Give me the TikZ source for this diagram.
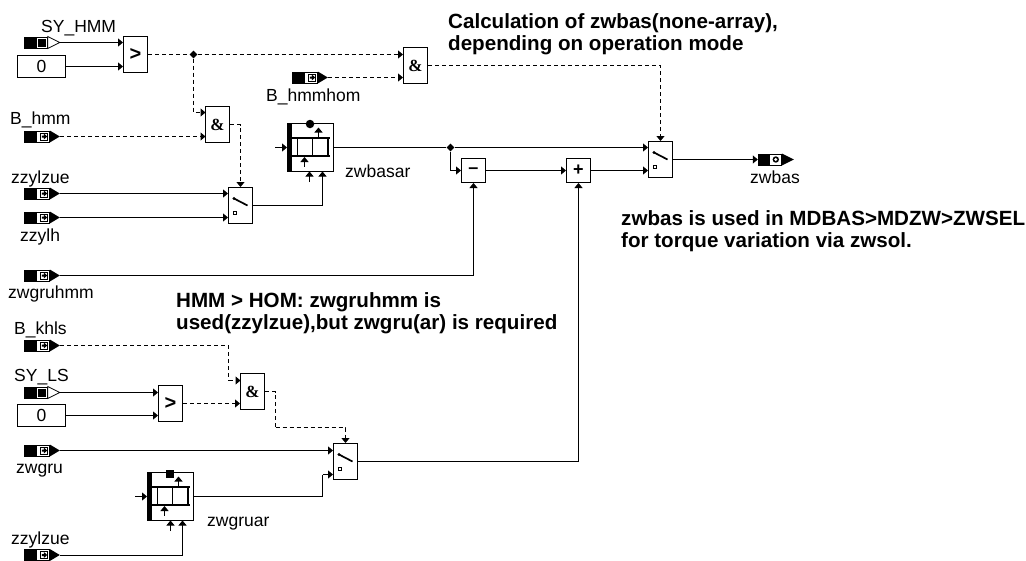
\documentclass[tikz,border=0pt]{standalone}
\usepackage{fontspec}
\setmainfont{Liberation Sans}
\newfontfamily\ampfont{Liberation Serif}
\usetikzlibrary{arrows.meta,shapes.geometric}
\tikzset{
  wire/.style={line width=1pt,draw=black},
  sig/.style={wire,-{Triangle[length=5pt,width=8pt]}},
  dsh/.style={dash pattern=on 4pt off 3pt},
  block/.style={draw=black,line width=1pt,fill=white,minimum width=24pt,minimum height=36pt,inner sep=0pt,font=\fontsize{20}{20}\selectfont\bfseries},
  andblock/.style={block,font=\fontsize{17}{17}\ampfont\bfseries},
  opbox/.style={draw=black,line width=1pt,fill=white,minimum width=24pt,minimum height=24pt,inner sep=0pt,font=\fontsize{18}{18}\selectfont\bfseries},
  constbox/.style={draw=black,line width=1pt,fill=white,minimum width=48pt,minimum height=22pt,inner sep=0pt,font=\fontsize{17.5}{17.5}\selectfont},
  arrbox/.style={draw=black,line width=1pt,fill=white,minimum width=46pt,minimum height=48pt,inner sep=0pt},
  termbox/.style={minimum width=36pt,minimum height=12pt,inner sep=0pt},
  lbl/.style={inner sep=0pt,anchor=base west,font=\fontsize{17.5}{17.5}\selectfont},
  note/.style={inner sep=0pt,anchor=base west,align=left,font=\fontsize{20.6}{22}\selectfont\bfseries},
  junct/.style={diamond,fill=black,inner sep=0pt,minimum size=8pt},
}
\newcommand{\terminput}[3]{%
  \node[termbox] (#1) at (#2+18,#3) {};
  \begin{scope}[shift={(#1.west)}]
    \fill (0,-6) rectangle (13,6);
    \draw[line width=.8pt,fill=white] (13,-5.5) rectangle (26,5.5);
    \fill (26,-6) -- (36,0) -- (26,6) -- cycle;
    \draw[line width=.8pt,fill=white] (16.5,-3.5) rectangle (23.5,3.5);
    \fill (18,-1) -- (20,-1) -- (20,-3) -- (23.5,0) -- (20,3) -- (20,1) -- (18,1) -- cycle;
  \end{scope}}
\newcommand{\termsys}[3]{%
  \node[termbox] (#1) at (#2+18,#3) {};
  \begin{scope}[shift={(#1.west)}]
    \fill (0,-6) rectangle (13,6);
    \draw[line width=.8pt,fill=white] (13,-5.5) rectangle (24,5.5);
    \fill (14.5,-4) rectangle (22,4);
    \draw[line width=.8pt,fill=white] (24,-6) -- (36,0) -- (24,6) -- cycle;
  \end{scope}}
\newcommand{\termoutput}[3]{%
  \node[termbox] (#1) at (#2+18,#3) {};
  \begin{scope}[shift={(#1.west)}]
    \fill (0,-6) rectangle (12,6);
    \draw[line width=.8pt,fill=white] (12,-5.5) rectangle (24,5.5);
    \fill (24,-6) -- (36,0) -- (24,6) -- cycle;
    \fill (18,0) circle (3.2);
    \fill[white] (18,0) circle (1.6);
  \end{scope}}
\newcommand{\arrayicon}[1]{%
  \begin{scope}[shift={(#1.center)}]
    \fill (-23,-24) rectangle (-18.5,24);
    \draw[line width=1.8pt] (-18.5,-9.5) -- (19,-9.5) (-18.5,8.5) -- (19,8.5);
    \draw[line width=1.8pt] (-13,-9.5) -- (-13,8.5) (2,-9.5) -- (2,8.5) (17.5,-9.5) -- (17.5,8.5);
    \draw[line width=1.2pt,-{Triangle[length=5pt,width=8pt]}] (-6,19) -- (-6,9.5);
    \draw[line width=1.2pt,-{Triangle[length=5pt,width=8pt]}] (8,-9.5) -- (8,-20);
  \end{scope}}
\newcommand{\switchicon}[1]{%
  \begin{scope}[shift={(#1.center)}]
    \draw[line width=1.7pt] (-6.5,-7) -- (7,0);
    \fill (-6.5,-7) circle (1.6);
    \draw[line width=.8pt] (-7.5,6) rectangle (-4.5,9);
  \end{scope}}
\begin{document}
\begin{tikzpicture}[x=1pt,y=-1pt]
\useasboundingbox (0,0) rectangle (1026,560);

% ---- terminals
\termsys{syhmm}{24}{42.5}
\node[constbox] (zero1) at (41.5,66.5) {0};
\terminput{bhmm}{24}{136.5}
\terminput{bhmmhom}{292}{77.5}
\terminput{zzylzue}{24}{193.5}
\terminput{zzylh}{24}{217.5}
\terminput{zwgruhmm}{24}{275.5}
\terminput{bkhls}{24}{345.5}
\termsys{syls}{24}{392.5}
\node[constbox] (zero2) at (41.5,415.5) {0};
\terminput{zwgru}{24}{450.5}
\terminput{zzylzueb}{24}{555}
\termoutput{zwbasout}{758}{159.5}

% ---- blocks
\node[block] (cmp1) at (135.5,54.5) {>};
\node[block] (cmp2) at (170.5,403.5) {>};
\node[andblock] (and0) at (415.5,65.5) {\&};
\node[andblock] (and1) at (217.5,124.5) {\&};
\node[andblock] (and2) at (252.5,391.5) {\&};
\node[block] (sw1) at (240.5,205.5) {};
\node[block] (sw2) at (345.5,461.5) {};
\node[block] (swm) at (660.5,159.5) {};
\switchicon{sw1}\switchicon{sw2}\switchicon{swm}
\node[opbox] (minus) at (473.5,170.5) {–};
\node[opbox] (plus) at (578.5,170.5) {+};
\node[arrbox] (arr1) at (310.5,147.5) {};
\node[arrbox] (arr2) at (170.5,496.5) {};
\arrayicon{arr1}\arrayicon{arr2}
\node[circle,fill=black,inner sep=0pt,minimum size=8.5pt] (dot1) at (310,124) {};
\node[rectangle,fill=black,inner sep=0pt,minimum size=8pt] (sq2) at (170,474) {};

\node[junct] (j1) at (193.5,54.5) {};
\node[junct] (j2) at (450.5,147.5) {};

% ---- named coordinates
\coordinate (a1top) at (205.5,112.5);
\coordinate (a1low) at (205.5,136.5);
\coordinate (a2in) at (228.5,380.5);
\coordinate (a2top) at (240.5,380.5);
\coordinate (turn2) at (275.5,427.5);
\coordinate (arr1in) at (275,147.5);
\coordinate (arr1sa) at (309.5,182);
\coordinate (arr1sb) at (309.5,171.5);
\coordinate (arr1c) at (322.5,171.5);
\coordinate (arr2in) at (135,496.5);
\coordinate (arr2sa) at (170.5,531);
\coordinate (arr2sb) at (170.5,520.5);
\coordinate (arr2c) at (182.5,520.5);
\coordinate (b2) at (322.5,474.5);

% ---- solid connectors
\draw[sig] (syhmm.east) -- (cmp1.west |- syhmm.east);
\draw[sig] (zero1.east) -- (cmp1.west |- zero1.east);
\draw[sig] (syls.east) -- (cmp2.west |- syls.east);
\draw[sig] (zero2.east) -- (cmp2.west |- zero2.east);
\draw[sig] (zzylzue.east) -- (sw1.west |- zzylzue.east);
\draw[sig] (zzylh.east) -- (sw1.west |- zzylh.east);
\draw[sig] (zwgruhmm.east) -| (minus.south);
\draw[sig] (zwgru.east) -- (sw2.west |- zwgru.east);
\draw[sig] (sw1.east) -| (arr1c);
\draw[sig] (arr1in) -- (arr1.west);
\draw[sig] (arr1sa) -- (arr1sb);
\draw[wire] (arr1.east) -- (j2);
\draw[sig] (j2) -- (swm.west |- j2);
\draw[sig] (j2) |- (minus.west);
\draw[sig] (minus.east) -- (plus.west);
\draw[sig] (plus.east) -- (swm.west |- plus.east);
\draw[sig] (sw2.east) -| (plus.south);
\draw[sig] (arr2in) -- (arr2.west);
\draw[sig] (arr2sa) -- (arr2sb);
\draw[sig] (zzylzueb.east) -| (arr2c);
\draw[wire] (arr2.east) -| (b2);
\draw[sig] (b2) -- (sw2.west |- b2);
\draw[sig] (swm.east) -- (zwbasout.west);

% ---- dashed (logical) connectors
\draw[wire,dsh] (cmp1.east) -- (j1);
\draw[sig,dsh] (j1) -- (and0.west |- j1);
\draw[sig,dsh] (j1) |- (a1top);
\draw[sig,dsh] (bhmm.east) -- (a1low);
\draw[sig,dsh] (bhmmhom.east) -- (and0.west |- bhmmhom.east);
\draw[sig,dsh] (and0.east) -| (swm.north);
\draw[sig,dsh] (and1.east) -| (sw1.north);
\draw[wire,dsh] (bkhls.east) -| (a2in);
\draw[sig,dsh] (a2in) -- (a2top);
\draw[sig,dsh] (cmp2.east) -- (and2.west |- cmp2.east);
\draw[wire,dsh] (and2.east) -| (turn2);
\draw[sig,dsh] (turn2) -| (sw2.north);

% ---- labels
\node[lbl] (t1) at (41,32) {SY\_HMM};
\node[lbl] (t2) at (10,124) {B\_hmm};
\node[lbl] (t3) at (266,101) {B\_hmmhom};
\node[lbl] (t4) at (11,183) {zzylzue};
\node[lbl] (t5) at (20,241) {zzylh};
\node[lbl] (t6) at (8,298) {zwgruhmm};
\node[lbl] (t7) at (14,334) {B\_khls};
\node[lbl] (t8) at (14,381) {SY\_LS};
\node[lbl] (t9) at (16,473) {zwgru};
\node[lbl] (t10) at (11,544) {zzylzue};
\node[lbl] (t11) at (345,177) {zwbasar};
\node[lbl] (t12) at (207,526) {zwgruar};
\node[lbl] (t13) at (750,183) {zwbas};
\node[note] (n1) at (448,50) {Calculation of zwbas(none-array),\\depending on operation mode};
\node[note] (n2) at (176,329) {HMM > HOM: zwgruhmm is\\used(zzylzue),but zwgru(ar) is required};
\node[note] (n3) at (621,247) {zwbas is used in MDBAS>MDZW>ZWSEL\\for torque variation via zwsol.};
\end{tikzpicture}
\end{document}
